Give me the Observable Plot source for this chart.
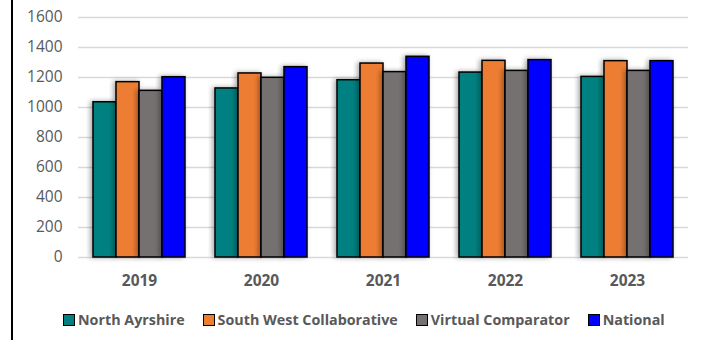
<!DOCTYPE html>
<html>
<head>
<meta charset="utf-8">
<script src="https://cdn.jsdelivr.net/npm/d3@7"></script>
<script src="https://cdn.jsdelivr.net/npm/@observablehq/plot@0.6"></script>
<style>
  html, body { margin: 0; padding: 0; background: #fff; }
  #wrap { position: relative; width: 702px; height: 340px; overflow: hidden; font-family: "Open Sans", sans-serif; }
  #border { position: absolute; left: 11px; top: 0; width: 1.5px; height: 340px; background: #000; }
  #legend { position: absolute; top: 310px; left: 63px; display: flex; align-items: center; font-weight: 700; font-size: 14.3px; color: #595959; white-space: nowrap; }
  .item { display: flex; align-items: center; margin-right: 18px; }
  .sw { width: 10px; height: 10px; border: 1px solid #000; margin-right: 3px; }
  #chart svg text { font-family: "Open Sans", sans-serif; font-size: 15.5px; fill: #595959; }
  #chart svg g[aria-label^="fx-axis"] text { font-size: 15.5px; font-weight: 700; }
</style>
</head>
<body>
<div id="wrap"><div id="border"></div><div id="chart"></div><div id="legend"></div></div>
<script>
const years = ["2019", "2020", "2021", "2022", "2023"];
const seriesNames = ["North Ayrshire", "South West Collaborative", "Virtual Comparator", "National"];
const northAyrshire = [1035, 1127, 1182, 1233, 1204];
const southWestCollaborative = [1169, 1227, 1293, 1311, 1309];
const virtualComparator = [1111, 1198, 1236, 1244, 1244];
const national = [1202, 1269, 1338, 1316, 1309];
const colors = ["#008080", "#ED7D31", "#767171", "#0000FF"];
const yTicks = [0, 200, 400, 600, 800, 1000, 1200, 1400, 1600];

const seriesValues = [northAyrshire, southWestCollaborative, virtualComparator, national];
const rows = [];
years.forEach((yr, i) => {
  seriesNames.forEach((s, j) => rows.push({year: yr, series: s, value: seriesValues[j][i]}));
});

const chart = Plot.plot({
  width: 702,
  height: 297,
  marginLeft: 78,
  marginRight: 14,
  marginTop: 17,
  marginBottom: 40,
  style: {fontFamily: "Open Sans, sans-serif", background: "transparent"},
  facet: {data: rows, x: "year"},
  fx: {domain: years, padding: 0, label: null, axis: "bottom", tickSize: 0, tickPadding: 17, tickFormat: d => d},
  x: {domain: seriesNames, axis: null, paddingInner: 0, paddingOuter: 0.568},
  y: {domain: [0, 1600], ticks: yTicks, tickSize: 0, tickPadding: 16, label: null, tickFormat: d => String(d)},
  color: {domain: seriesNames, range: colors},
  marks: [
    Plot.ruleY(yTicks, {stroke: "#d9d9d9", strokeWidth: 1.3}),
    Plot.barY(rows, {x: "series", y: "value", fill: "series", stroke: "#000", strokeWidth: 1.5, inset: 0})
  ]
});
document.getElementById("chart").appendChild(chart);

const svg = d3.select(chart);
const defs = svg.insert("defs", ":first-child");
const f = defs.append("filter").attr("id", "shadow").attr("x", "-30%").attr("y", "-10%").attr("width", "160%").attr("height", "120%");
f.append("feDropShadow").attr("dx", -2).attr("dy", 0).attr("stdDeviation", 2.5).attr("flood-color", "#000").attr("flood-opacity", 0.35);
svg.selectAll("g[aria-label='bar'] rect").attr("filter", "url(#shadow)");

const legend = d3.select("#legend");
seriesNames.forEach((s, i) => {
  const it = legend.append("div").attr("class", "item");
  it.append("div").attr("class", "sw").style("background", colors[i]);
  it.append("span").text(s);
});
</script>
</body>
</html>
